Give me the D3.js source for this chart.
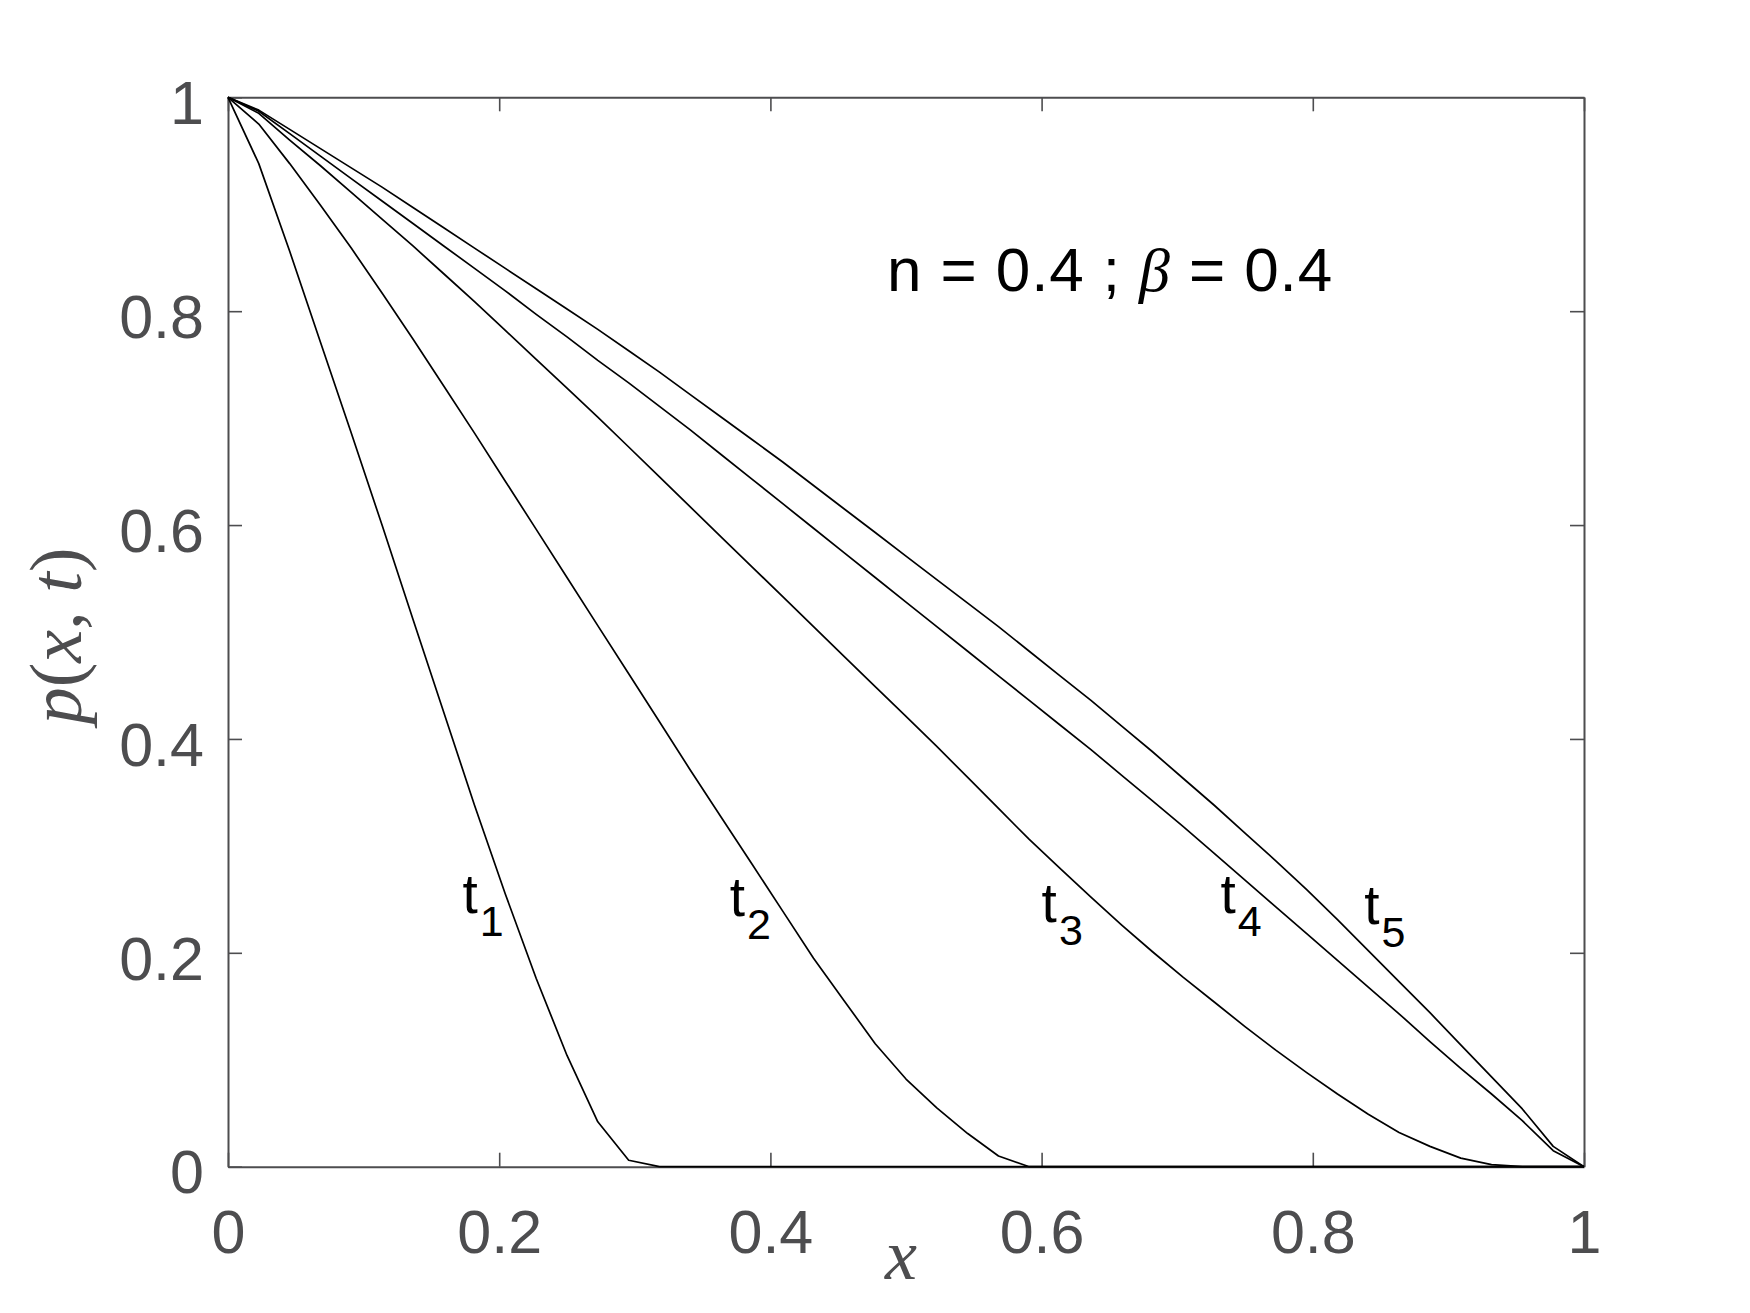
<!DOCTYPE html>
<html>
<head>
<meta charset="utf-8">
<script src="https://cdn.jsdelivr.net/npm/d3@7"></script>
<style>
  body { margin: 0; background: #fff; }
  svg { display: block; }
</style>
</head>
<body>
<script>
var width = 1750
var height = 1313

// grid of x positions (45 nodes) and the five profiles
var xs = [0, 0.0227, 0.0455, 0.0682, 0.0909, 0.1136, 0.1364, 0.1591, 0.1818, 0.2045,
  0.2273, 0.25, 0.2727, 0.2955, 0.3182, 0.3409, 0.3636, 0.3864, 0.4091, 0.4318,
  0.4545, 0.4773, 0.5, 0.5227, 0.5455, 0.5682, 0.5909, 0.6136, 0.6364, 0.6591,
  0.6818, 0.7045, 0.7273, 0.75, 0.7727, 0.7955, 0.8182, 0.8409, 0.8636, 0.8864,
  0.9091, 0.9318, 0.9545, 0.9773, 1]

var t1 = [1, 0.938, 0.856, 0.771, 0.686, 0.600, 0.512, 0.425, 0.338, 0.255,
  0.176, 0.104, 0.042, 0.006, 0, 0, 0, 0, 0, 0,
  0, 0, 0, 0, 0, 0, 0, 0, 0, 0,
  0, 0, 0, 0, 0, 0, 0, 0, 0, 0,
  0, 0, 0, 0, 0]

var t2 = [1, 0.975, 0.938, 0.899, 0.859, 0.817, 0.774, 0.730, 0.686, 0.641,
  0.596, 0.551, 0.506, 0.461, 0.416, 0.371, 0.327, 0.283, 0.239, 0.195,
  0.155, 0.115, 0.082, 0.055, 0.031, 0.010, 0, 0, 0, 0,
  0, 0, 0, 0, 0, 0, 0, 0, 0, 0,
  0, 0, 0, 0, 0]

var t3 = [1, 0.985, 0.960, 0.936, 0.911, 0.886, 0.861, 0.835, 0.809, 0.782,
  0.755, 0.728, 0.701, 0.673, 0.645, 0.617, 0.589, 0.561, 0.533, 0.505,
  0.477, 0.449, 0.421, 0.393, 0.364, 0.335, 0.306, 0.279, 0.252, 0.226,
  0.201, 0.177, 0.154, 0.131, 0.109, 0.088, 0.068, 0.049, 0.032, 0.019,
  0.008, 0.002, 0, 0, 0]

var t4 = [1, 0.987, 0.966, 0.945, 0.924, 0.903, 0.882, 0.861, 0.840, 0.819,
  0.797, 0.776, 0.754, 0.733, 0.711, 0.689, 0.666, 0.643, 0.620, 0.597,
  0.574, 0.551, 0.528, 0.505, 0.482, 0.459, 0.436, 0.413, 0.390, 0.366,
  0.342, 0.318, 0.293, 0.268, 0.243, 0.218, 0.193, 0.168, 0.143, 0.117,
  0.092, 0.068, 0.043, 0.015, 0]

var t5 = [1, 0.988, 0.970, 0.952, 0.934, 0.916, 0.897, 0.878, 0.859, 0.840,
  0.821, 0.802, 0.783, 0.763, 0.743, 0.722, 0.701, 0.680, 0.659, 0.637,
  0.615, 0.593, 0.571, 0.549, 0.527, 0.505, 0.482, 0.459, 0.436, 0.412,
  0.388, 0.363, 0.338, 0.312, 0.286, 0.259, 0.231, 0.202, 0.173, 0.144,
  0.114, 0.084, 0.054, 0.019, 0]

var series = [t1, t2, t3, t4, t5]

var xTicks = [0, 0.2, 0.4, 0.6, 0.8, 1]
var yTicks = [0, 0.2, 0.4, 0.6, 0.8, 1]

// curve labels (t_k), placed in data coordinates
var labelNames = ["1", "2", "3", "4", "5"]
var labelX = [0.173, 0.370, 0.600, 0.732, 0.838]
var labelY = [0.237, 0.234, 0.229, 0.237, 0.227]

var axisColor = "#4d4d4f"
var serif = "'Liberation Serif', 'DejaVu Serif', serif"
var sans = "'Liberation Sans', Arial, Helvetica, sans-serif"

var margin = { top: 97.3, right: 166, bottom: 146.3, left: 228 }

var x = d3.scaleLinear().domain([0, 1]).range([margin.left, width - margin.right])
var y = d3.scaleLinear().domain([0, 1]).range([height - margin.bottom, margin.top])

const svg = d3.select("body").append("svg")
  .attr("width", width)
  .attr("height", height)
  .attr("viewBox", [0, 0, width, height])

const fmt = d => d === 0 || d === 1 ? String(d) : d.toFixed(1)

// box with inward ticks on all four sides
function styleAxis(g) {
  g.select(".domain").attr("stroke", axisColor).attr("stroke-width", 2)
  g.selectAll(".tick line").attr("stroke", axisColor).attr("stroke-width", 1.6)
  g.selectAll(".tick text").attr("fill", axisColor)
    .attr("font-family", sans).attr("font-size", 61)
}

svg.append("g")
  .attr("transform", `translate(0,${y(0)})`)
  .call(d3.axisBottom(x).tickValues(xTicks).tickFormat(fmt).tickSizeInner(-14).tickSizeOuter(0).tickPadding(43))
  .call(styleAxis)
  .call(g => g.selectAll(".tick text").attr("dy", "0.71em"))

svg.append("g")
  .attr("transform", `translate(0,${y(1)})`)
  .call(d3.axisTop(x).tickValues(xTicks).tickFormat("").tickSizeInner(-14).tickSizeOuter(0))
  .call(styleAxis)

svg.append("g")
  .attr("transform", `translate(${x(0)},0)`)
  .call(d3.axisLeft(y).tickValues(yTicks).tickFormat(fmt).tickSizeInner(-14).tickSizeOuter(0).tickPadding(24))
  .call(styleAxis)
  .call(g => g.selectAll(".tick text").attr("dy", "0.43em"))

svg.append("g")
  .attr("transform", `translate(${x(1)},0)`)
  .call(d3.axisRight(y).tickValues(yTicks).tickFormat("").tickSizeInner(-14).tickSizeOuter(0))
  .call(styleAxis)

// profiles
const line = d3.line()
  .x((d, i) => x(xs[i]))
  .y(d => y(d))

svg.append("g")
  .selectAll("path")
  .data(series)
  .join("path")
  .attr("d", line)
  .attr("fill", "none")
  .attr("stroke", "#000")
  .attr("stroke-width", 1.7)
  .attr("stroke-linejoin", "round")

// t_k labels
const lab = svg.append("g")
  .selectAll("text")
  .data(labelNames)
  .join("text")
  .attr("x", (d, i) => x(labelX[i]))
  .attr("y", (d, i) => y(labelY[i]))
  .attr("font-family", sans)
  .attr("font-size", 55)
  .attr("fill", "#000")

lab.append("tspan").text("t")
lab.append("tspan").attr("dx", 2).attr("dy", 23).attr("font-size", 43).text(d => d)

// parameter annotation
const ann = svg.append("text")
  .attr("x", x(0.486))
  .attr("y", y(0.819))
  .attr("font-family", sans)
  .attr("font-size", 62)
  .attr("letter-spacing", 0.9)
  .attr("fill", "#000")
ann.append("tspan").text("n = 0.4 ; ")
ann.append("tspan").attr("font-family", serif).attr("font-style", "italic").text("β")
ann.append("tspan").text(" = 0.4")

// axis labels
svg.append("text")
  .attr("x", x(0.5) - 5)
  .attr("y", 1279)
  .attr("text-anchor", "middle")
  .attr("font-family", serif)
  .attr("font-style", "italic")
  .attr("font-size", 72)
  .attr("fill", axisColor)
  .text("x")

const yl = svg.append("text")
  .attr("transform", `translate(81,${y(0.5) + 4}) rotate(-90)`)
  .attr("text-anchor", "middle")
  .attr("font-family", serif)
  .attr("font-size", 74)
  .attr("fill", axisColor)
yl.append("tspan").attr("font-style", "italic").text("p")
yl.append("tspan").text("(")
yl.append("tspan").attr("font-style", "italic").text("x")
yl.append("tspan").text(", ")
yl.append("tspan").attr("font-style", "italic").text("t")
yl.append("tspan").text(")")
</script>
</body>
</html>
